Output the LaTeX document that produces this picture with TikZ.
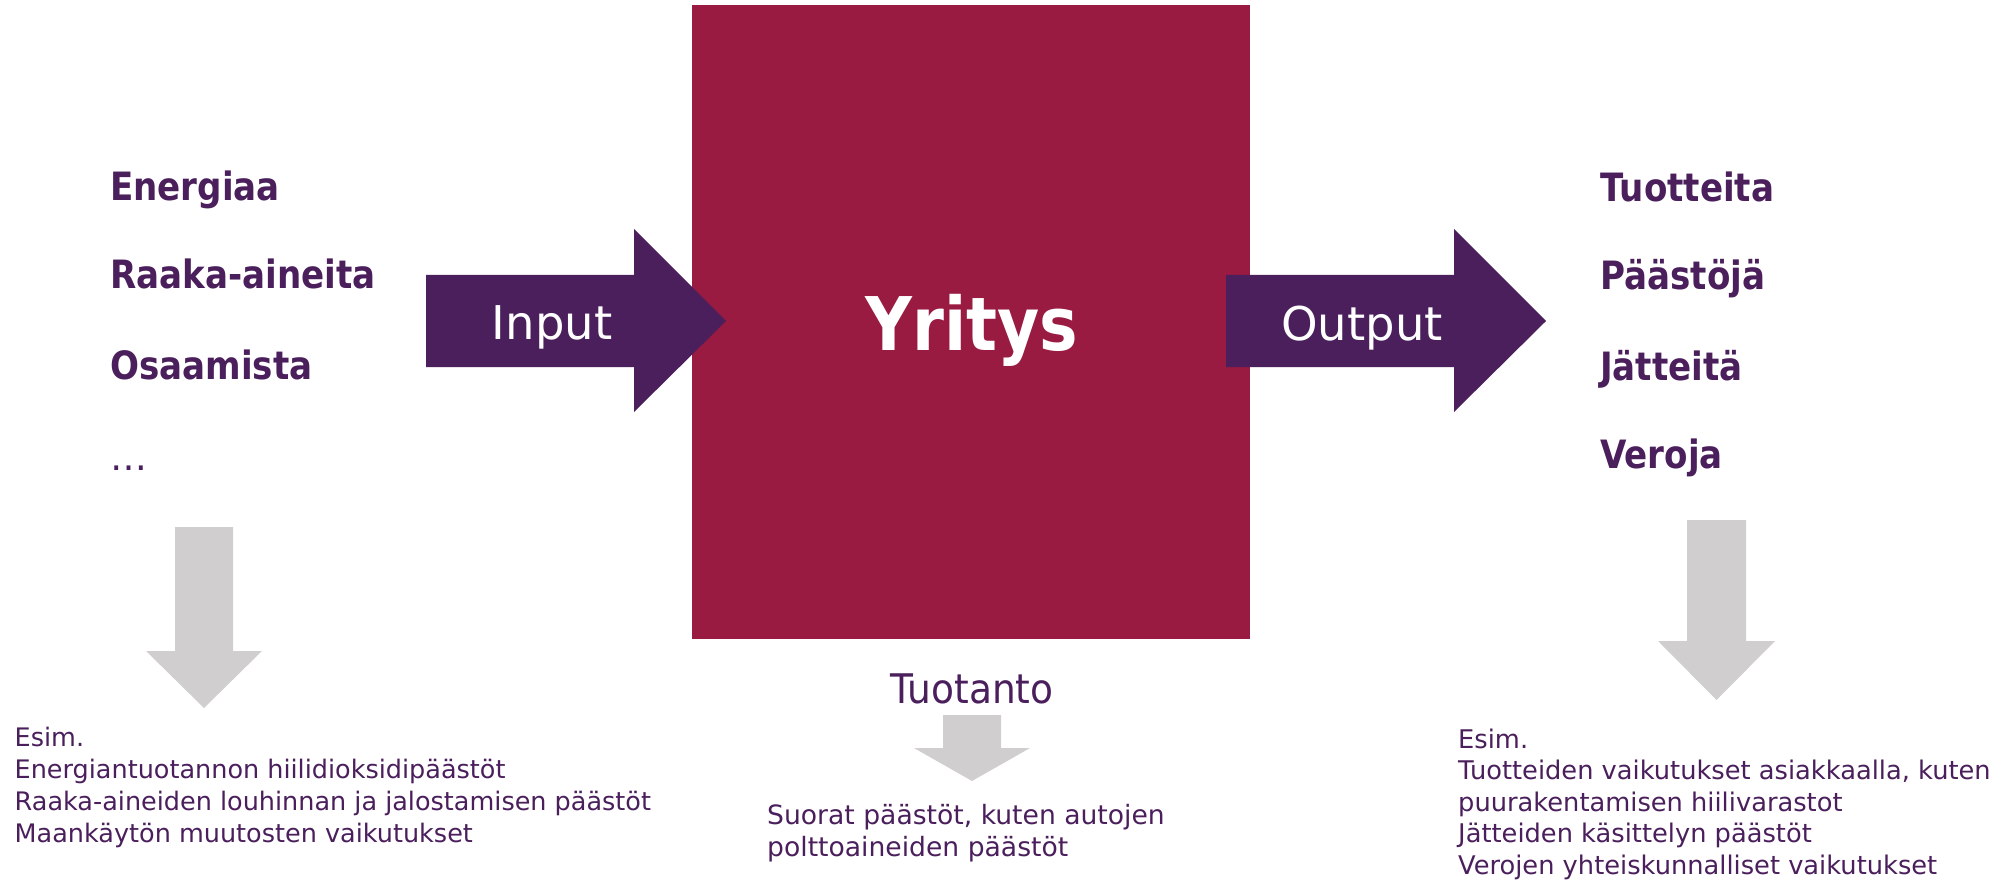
\documentclass[tikz,border=0pt]{standalone}
\usepackage{fontspec}
\setmainfont{DejaVu Sans}
\newfontfamily\fbold[FakeStretch=0.875]{DejaVu Sans}
\newfontfamily\ftuo[FakeStretch=0.92]{DejaVu Sans}
\definecolor{boxred}{RGB}{154,27,66}
\definecolor{plum}{RGB}{74,31,92}
\definecolor{lightgray}{RGB}{208,206,207}
\tikzset{
  bigarrow/.style={fill=plum, draw=none},
  grayarrow/.style={fill=lightgray, draw=none},
  item/.style={anchor=base west, inner sep=0pt, text=plum, font=\fbold\bfseries\fontsize{39}{39}\selectfont},
  arrowlabel/.style={anchor=base, inner sep=0pt, text=white, font=\fontsize{46.5}{46.5}\selectfont},
  note/.style={anchor=base west, inner sep=0pt, text=plum, align=left}
}
\begin{document}
\begin{tikzpicture}[x=1pt,y=-1pt]
\useasboundingbox (0,0) rectangle (2015,882);
% company box
\fill[boxred] (692,5) rectangle (1250,639);
\node[anchor=base, inner sep=0pt, text=white, font=\fbold\bfseries\fontsize{74}{74}\selectfont] (yritys) at (972,351) {Yritys};
% input / output arrows
\fill[bigarrow] (426,275) -- (634,275) -- (634,229) -- (726,321) -- (634,412) -- (634,367) -- (426,367) -- cycle;
\fill[bigarrow] (1226,275) -- (1454,275) -- (1454,229) -- (1546,321) -- (1454,412) -- (1454,367) -- (1226,367) -- cycle;
\node[arrowlabel] (input) at (552,340) {Input};
\node[arrowlabel] (output) at (1362,341) {Output};
% left list
\node[item] (energia) at (110,201) {Energiaa};
\node[item] (raaka) at (110,289) {Raaka-aineita};
\node[item] (osaam) at (110,379) {Osaamista};
\node[item, font=\fontsize{37}{37}\selectfont] (dots) at (110,470) {…};
% right list
\node[item] (tuott) at (1600,202) {Tuotteita};
\node[item] (paast) at (1600,290) {Päästöjä};
\node[item] (jatt) at (1600,380) {Jätteitä};
\node[item] (vero) at (1600,468) {Veroja};
% gray arrows
\fill[grayarrow] (175,527) -- (233,527) -- (233,651) -- (262,651) -- (204,708) -- (146,651) -- (175,651) -- cycle;
\fill[grayarrow] (1687,520) -- (1746,520) -- (1746,641) -- (1775,641) -- (1716.5,700) -- (1658,641) -- (1687,641) -- cycle;
\fill[grayarrow] (943,715) -- (1001,715) -- (1001,748) -- (1030,748) -- (972,781) -- (914,748) -- (943,748) -- cycle;
% production label
\node[anchor=base, inner sep=0pt, text=plum, font=\ftuo\fontsize{40.8}{40.8}\selectfont] (tuotanto) at (972,703) {Tuotanto};
% notes (base anchor = baseline of the last line)
\node[note, font=\fontsize{25.5}{31.7}\selectfont] (leftnote) at (14.5,842)
  {Esim.\\Energiantuotannon hiilidioksidipäästöt\\Raaka-aineiden louhinnan ja jalostamisen päästöt\\Maankäytön muutosten vaikutukset};
\node[note, font=\fontsize{26.6}{31.5}\selectfont] (midnote) at (767,856)
  {Suorat päästöt, kuten autojen\\polttoaineiden päästöt};
\node[note, font=\fontsize{25.7}{31.5}\selectfont] (rightnote) at (1458,874)
  {Esim.\\Tuotteiden vaikutukset asiakkaalla, kuten\\puurakentamisen hiilivarastot\\Jätteiden käsittelyn päästöt\\Verojen yhteiskunnalliset vaikutukset};
\end{tikzpicture}
\end{document}
